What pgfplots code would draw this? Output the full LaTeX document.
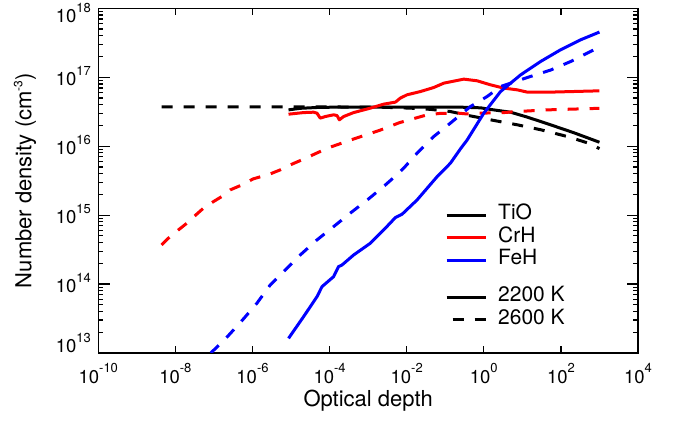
\documentclass[border=0pt]{standalone}
\usepackage{fontspec}
\setmainfont{TeX Gyre Heros}
\usepackage{pgfplots}
\pgfplotsset{compat=1.18}
\newcommand{\sups}[1]{\raisebox{10.5pt}{\fontsize{13}{13}\selectfont #1}}
\newcommand{\tl}[1]{10\sups{#1}}
\begin{document}
\begin{tikzpicture}
\path[use as bounding box] (-98.3pt,-67pt) rectangle (585.7pt,353pt);
\begin{axis}[
  at={(0pt,0pt)}, anchor=south west,
  scale only axis, width=539.7pt, height=344.7pt,
  xmode=log, ymode=log,
  xmin=1e-10, xmax=1e4, ymin=1e13, ymax=1e18,
  axis line style={line width=1.2pt},
  every tick/.style={black, line width=1.2pt},
  tick align=inside, tick pos=both,
  major tick length=11.5pt, minor tick length=5pt,
  tick label style={font=\fontsize{18.5}{18.5}\selectfont},
  xtick=\empty,
  extra x ticks={1e-10,1e-8,1e-6,1e-4,1e-2,1,1e2,1e4},
  extra x tick labels={\tl{-10},\tl{-8},\tl{-6},\tl{-4},\tl{-2},\tl{0},\tl{2},\tl{4}},
  extra x tick style={major tick length=7pt},
  minor xtick={1e-9,1e-7,1e-5,1e-3,1e-1,1e1,1e3},
  xticklabel style={anchor=base, inner sep=0pt, yshift=-30.3pt},
  ytick={1e13,1e14,1e15,1e16,1e17,1e18},
  yticklabels={\raisebox{8.7pt}{\tl{13}},\tl{14},\tl{15},\tl{16},\tl{17},\raisebox{-5.7pt}{\tl{18}}},
  minor ytick={2e13,3e13,4e13,5e13,6e13,7e13,8e13,9e13,
               2e14,3e14,4e14,5e14,6e14,7e14,8e14,9e14,
               2e15,3e15,4e15,5e15,6e15,7e15,8e15,9e15,
               2e16,3e16,4e16,5e16,6e16,7e16,8e16,9e16,
               2e17,3e17,4e17,5e17,6e17,7e17,8e17,9e17},
  yticklabel style={anchor=base east, inner sep=0pt, xshift=-7.3pt, yshift=-8.7pt},
  xlabel={Optical depth},
  ylabel={Number density (cm\raisebox{9pt}{\fontsize{12}{12}\selectfont -3})},
  every axis x label/.style={at={(axis description cs:0.5,-0.1558)}, anchor=base, inner sep=0pt, font=\fontsize{22}{22}\selectfont},
  every axis y label/.style={at={(axis description cs:-0.1358,0.5)}, rotate=90, anchor=center, inner sep=0pt, font=\fontsize{22}{22}\selectfont},
  legend cell align=left,
  legend image code/.code={\draw[#1] (0pt,0pt) -- (39pt,0pt);},
  legend style={at={(0.6424,0.4330)}, anchor=north west, draw=none, fill=none, inner sep=0pt,
    nodes={inner sep=0pt, text height=16pt, text depth=6.5pt}, column sep=11pt,
    font=\fontsize{21}{21}\selectfont},
  every axis plot/.append style={line width=3pt, line join=round},
]
% TiO 2600 K
\addplot[black, dash pattern=on 11pt off 11pt, forget plot] coordinates {
(4.4e-9,3.72e16) (1.7e-5,3.72e16) (2.0e-3,3.68e16) (1.25e-2,3.56e16) (4.1e-2,3.42e16)
(0.136,3.18e16) (0.45,2.75e16) (1.5,2.41e16) (7.4,2.04e16) (30,1.73e16) (147,1.38e16)
(590,1.08e16) (1000,9.2e15)};
% TiO 2200 K
\addplot[black, forget plot] coordinates {
(8.6e-6,3.36e16) (1.73e-5,3.54e16) (5.7e-5,3.66e16) (3.45e-4,3.69e16) (6.85e-3,3.69e16)
(0.248,3.68e16) (0.82,3.6e16) (1.79,3.36e16) (4.94,3.11e16) (13.4,2.64e16) (54,2.04e16)
(214,1.57e16) (1000,1.14e16)};
% CrH 2600 K
\addplot[red, dash pattern=on 11pt off 11pt, forget plot] coordinates {
(4.4e-9,3.69e14) (6.57e-9,4.62e14) (1.2e-8,6.1e14) (1.98e-8,7.63e14) (3.25e-8,9.84e14)
(5.33e-8,1.26e15) (9.7e-8,1.57e15) (1.6e-7,1.86e15) (2.64e-7,2.32e15) (5.31e-7,2.74e15)
(1.04e-6,3.35e15) (2.88e-6,3.96e15) (5.24e-6,4.53e15) (9.53e-6,5.35e15) (2.11e-5,6.48e15)
(5.08e-5,8.13e15) (1.15e-4,9.87e15) (2.1e-4,1.11e16) (5.56e-4,1.34e16) (1.95e-3,1.69e16)
(6.45e-3,2.19e16) (1.68e-2,2.55e16) (3.39e-2,2.85e16) (7.5e-2,2.99e16) (0.22,3.01e16)
(0.37,2.93e16) (0.82,3.01e16) (3.3,3.07e16) (7.4,3.18e16) (44.4,3.36e16) (179,3.44e16)
(1000,3.54e16)};
% CrH 2200 K
\addplot[red, forget plot] coordinates {
(8.6e-6,2.91e16) (2.11e-5,3.07e16) (3.84e-5,3.11e16) (4.71e-5,3.01e16) (5.73e-5,2.55e16)
(7.73e-5,2.69e16) (1.27e-4,2.85e16) (1.56e-4,2.78e16) (1.79e-4,2.41e16) (2.31e-4,2.69e16)
(4.2e-4,3.07e16) (1.14e-3,3.56e16) (2.53e-3,4.07e16) (5.08e-3,4.35e16) (6.85e-3,4.98e16)
(1.02e-2,5.56e16) (2.27e-2,6.2e16) (5.02e-2,7.09e16) (9.14e-2,8.2e16) (0.303,9.38e16)
(0.675,8.87e16) (1.49,7.76e16) (3.31,6.95e16) (7.38,6.56e16) (13.4,6.08e16) (54,6.08e16)
(1000,6.35e16)};
% FeH 2600 K
\addplot[blue, dash pattern=on 11pt off 11pt, forget plot] coordinates {
(8.3e-8,1e13) (2.16e-7,1.69e13) (5.31e-7,2.94e13) (1.3e-6,5.26e13) (2.88e-6,9.7e13)
(7.06e-6,1.6e14) (1.73e-5,2.64e14) (4.71e-5,4.37e14) (1.27e-4,6.81e14) (3.45e-4,1.07e15)
(1.03e-3,1.72e15) (2.8e-3,2.74e15) (4.59e-3,3.5e15) (8.36e-3,4.8e15) (1.86e-2,7.91e15)
(5.02e-2,1.38e16) (0.136,2.16e16) (0.452,3.76e16) (1.22,5.25e16) (2.72,7.33e16)
(13.4,9.9e16) (54,1.27e17) (179,1.69e17) (1000,2.75e17)};
% FeH 2200 K
\addplot[blue, forget plot] coordinates {
(8.6e-6,1.63e13) (2.11e-5,3.36e13) (4.71e-5,6.56e13) (6.35e-5,9.17e13) (1.27e-4,1.28e14)
(1.71e-4,1.79e14) (2.1e-4,1.89e14) (4.2e-4,2.64e14) (1.14e-3,3.91e14) (2.53e-3,6.1e14)
(5.08e-3,9.2e14) (7.59e-3,1.03e15) (1.86e-2,1.66e15) (6.17e-2,3.62e15) (0.136,5.66e15)
(0.248,9.14e15) (0.37,1.23e16) (1.0,3.01e16) (2.72,6.2e16) (8.98,1.08e17) (29.7,1.69e17)
(98.2,2.5e17) (325,3.49e17) (1000,4.52e17)};
\addlegendimage{black, line width=3pt}
\addlegendentry{TiO}
\addlegendimage{red, line width=3pt}
\addlegendentry{CrH}
\addlegendimage{blue, line width=3pt}
\addlegendentry{FeH}
\end{axis}
\begin{axis}[
  at={(0pt,0pt)}, anchor=south west,
  scale only axis, width=539.7pt, height=344.7pt,
  hide axis, xmin=0, xmax=1, ymin=0, ymax=1,
  legend cell align=left,
  legend image code/.code={\draw[#1] (0pt,0pt) -- (39pt,0pt);},
  legend style={at={(0.6424,0.1951)}, anchor=north west, draw=none, fill=none, inner sep=0pt,
    nodes={inner sep=0pt, text height=16pt, text depth=6.5pt}, column sep=11pt,
    font=\fontsize{21}{21}\selectfont},
]
\addlegendimage{black, line width=3pt}
\addlegendentry{2200 K}
\addlegendimage{black, line width=3pt, dash pattern=on 11pt off 11pt, dash phase=16pt}
\addlegendentry{2600 K}
\end{axis}
\end{tikzpicture}
\end{document}
